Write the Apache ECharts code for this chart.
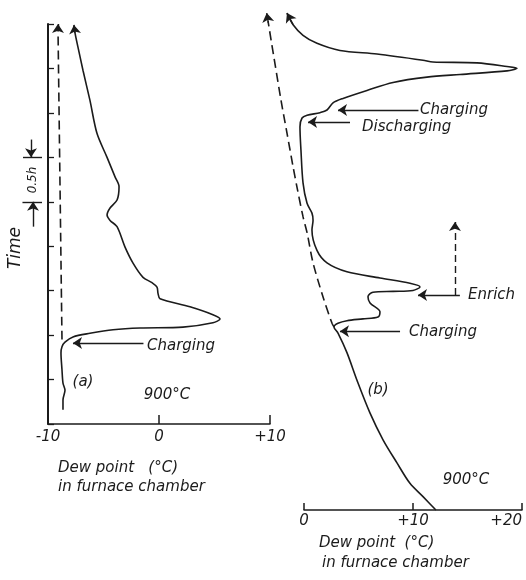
<!DOCTYPE html>
<html>
<head>
<meta charset="utf-8">
<script src="https://cdn.jsdelivr.net/npm/echarts@6/dist/echarts.min.js"></script>
<style>html,body{margin:0;padding:0;background:#fff;}#c{width:526px;height:580px;}</style>
</head>
<body>
<div id="c"></div>
<script>
// ---- Panel (a): dew point (°C) vs time (h) ----
const aDew  = [-8.65,-8.65,-8.47,-8.65,-8.74,-8.83,-8.74,-8.47,-7.75,-6.22,-4.14,-1.71,2.16,4.86,5.5,4.86,2.79,0.09,-0.09,-0.18,-0.63,-1.44,-2.34,-3.06,-3.78,-4.41,-4.68,-4.41,-3.78,-3.6,-3.96,-4.68,-5.59,-6.22,-6.85,-7.3,-7.57,-7.66];
const aTime = [0.16,0.27,0.38,0.46,0.61,0.80,0.87,0.92,0.98,1.02,1.06,1.08,1.09,1.14,1.18,1.23,1.32,1.41,1.47,1.54,1.59,1.65,1.81,1.99,2.22,2.29,2.35,2.43,2.52,2.67,2.78,3.0,3.27,3.64,3.98,4.24,4.40,4.48];
const aDashDew  = [-8.74,-9.1];
const aDashTime = [0.95,4.46];
// ---- Panel (b) ----
const bDew  = [12.1,10.92,9.72,8.53,7.25,6.06,4.86,3.94,3.12,2.75,3.12,3.94,5.41,6.79,6.97,6.06,5.87,6.33,8.17,10.0,10.64,9.72,6.97,3.94,2.11,1.19,0.73,0.83,0.73,0.28,-0.09,-0.28,-0.37,-0.18,0.28,1.47,2.11,2.66,3.58,5.78,8.17,11.28,14.31,18.62,19.54,18.62,15.87,11.83,10.92,6.7,3.3,1.19,-0.09,-1.0,-1.56];
const bTime = [0.0,0.15,0.30,0.53,0.79,1.09,1.46,1.77,1.99,2.06,2.10,2.13,2.15,2.17,2.23,2.33,2.40,2.45,2.46,2.47,2.51,2.55,2.61,2.68,2.78,2.92,3.15,3.26,3.34,3.45,3.68,4.05,4.31,4.41,4.44,4.47,4.50,4.58,4.63,4.72,4.81,4.87,4.90,4.94,4.97,4.99,5.03,5.04,5.06,5.13,5.17,5.25,5.34,5.46,5.59];
const bDashDew  = [2.75,2.57,1.74,0.83,0.28,-0.09,-0.64,-1.0,-1.56,-2.11,-3.3];
const bDashTime = [2.06,2.10,2.40,2.78,3.12,3.30,3.63,3.86,4.24,4.61,5.50];
// tick labels
const aTicks = [-10, 0, 10];
const bTicks = [0, 10, 20];

const INK = '#1b1b1b';
const FONT = 'DejaVu Sans';
const zip = (xs, ys) => xs.map((x, i) => [x, ys[i]]);
const fmt = v => (v > 0 ? '+' + v : String(v));

// panel (b) plotting plane: same scale as the visible (b) axis, extended to the left
const B_PLOT = 2;
const B_LEFT_EXT = 4;              // °C shown left of the visible 0 tick
const B_PX_PER_DEG = 218 / 20;

function curve(x, y, gi, dashed) {
  return {
    type: 'line', xAxisIndex: gi, yAxisIndex: gi, data: zip(x, y),
    showSymbol: false, symbol: 'none', smooth: 0.3, clip: false, silent: true,
    lineStyle: { color: INK, width: 1.6, type: dashed ? [9, 5] : 'solid' }
  };
}
function arrows(gi, segs, extra) {
  return Object.assign({
    type: 'lines', coordinateSystem: 'cartesian2d', xAxisIndex: gi, yAxisIndex: gi,
    clip: false, silent: true, symbol: ['none', 'arrow'], symbolSize: 9,
    lineStyle: { color: INK, width: 1.4, opacity: 1, curveness: 0 },
    data: segs.map(s => ({ coords: s }))
  }, extra || {});
}
function txt(x, y, text, opt) {
  opt = opt || {};
  return {
    type: 'text', x: x, y: y, rotation: opt.rot || 0, silent: true,
    style: {
      text: text, fill: INK, fontFamily: FONT, fontStyle: 'italic',
      fontSize: opt.size || 15, align: opt.align || 'left', verticalAlign: 'middle'
    }
  };
}
const axisLabel = { formatter: fmt, color: INK, fontFamily: FONT, fontStyle: 'italic', fontSize: 15 };

const option = {
  backgroundColor: '#ffffff',
  animation: false,
  grid: [
    { left: 48, right: 256, top: 24, bottom: 156 },
    { left: 304, right: 4, top: 10, bottom: 70 },
    { left: 304 - B_LEFT_EXT * B_PX_PER_DEG, right: 4, top: 10, bottom: 70 }
  ],
  xAxis: [
    { gridIndex: 0, type: 'value', min: aTicks[0], max: aTicks[2], interval: 10,
      axisLine: { onZero: false, lineStyle: { color: INK, width: 1.5 } },
      axisTick: { inside: true, length: 9, lineStyle: { color: INK, width: 1.5 } },
      axisLabel: Object.assign({ margin: 6 }, axisLabel), splitLine: { show: false } },
    { gridIndex: 1, type: 'value', min: bTicks[0], max: bTicks[2], interval: 10,
      axisLine: { onZero: false, lineStyle: { color: INK, width: 1.5 } },
      axisTick: { inside: true, length: 7, lineStyle: { color: INK, width: 1.5 } },
      axisLabel: Object.assign({ margin: 4, alignMaxLabel: 'right' }, axisLabel), splitLine: { show: false } },
    { gridIndex: 2, type: 'value', min: bTicks[0] - B_LEFT_EXT, max: bTicks[2], show: false,
      axisLine: { onZero: false }, splitLine: { show: false } }
  ],
  yAxis: [
    { gridIndex: 0, type: 'value', min: 0, max: 4.5, interval: 0.5,
      axisLine: { show: true, onZero: false, lineStyle: { color: INK, width: 2 } },
      axisTick: { show: true, inside: true, length: 6, lineStyle: { color: INK, width: 1.3 } },
      axisLabel: { show: false }, splitLine: { show: false } },
    { gridIndex: 1, type: 'value', min: 0, max: 5.625, show: false,
      axisLine: { onZero: false }, splitLine: { show: false } },
    { gridIndex: 2, type: 'value', min: 0, max: 5.625, show: false,
      axisLine: { onZero: false }, splitLine: { show: false } }
  ],
  series: [
    curve(aDew, aTime, 0, false),
    curve(aDashDew, aDashTime, 0, true),
    curve(bDew, bTime, B_PLOT, false),
    curve(bDashDew, bDashTime, B_PLOT, true),
    arrows(0, [
      [[-1.4, 0.91], [-7.75, 0.91]],
      [[-7.57, 4.40], [-7.66, 4.49]],
      [[-9.1, 4.42], [-9.1, 4.50]],
      [[-11.53, 3.2], [-11.53, 3.0]],
      [[-11.35, 2.22], [-11.35, 2.5]]
    ]),
    arrows(0, [
      [[-12.25, 3.0], [-10.54, 3.0]],
      [[-12.3, 2.5], [-10.54, 2.5]]
    ], { symbol: 'none' }),
    arrows(B_PLOT, [
      [[10.5, 4.5], [3.12, 4.5]],
      [[4.22, 4.365], [0.37, 4.365]],
      [[14.3, 2.42], [10.46, 2.42]],
      [[8.81, 2.01], [3.30, 2.01]],
      [[-1.0, 5.46], [-1.56, 5.59]],
      [[-3.27, 5.48], [-3.42, 5.59]]
    ]),
    arrows(B_PLOT, [
      [[13.85, 2.42], [13.85, 3.24]]
    ], { lineStyle: { color: INK, width: 1.4, opacity: 1, type: [7, 4], curveness: 0 } })
  ],
  graphic: [
    txt(147, 346, 'Charging'),
    txt(83, 382, '(a)', { align: 'center' }),
    txt(167, 395, '900°C', { align: 'center' }),
    txt(58, 468, 'Dew point   (°C)'),
    txt(58, 487, 'in furnace chamber'),
    txt(16, 248, 'Time', { rot: Math.PI / 2, align: 'center', size: 17 }),
    txt(33, 180, '0.5h', { rot: Math.PI / 2, align: 'center', size: 12 }),
    txt(420, 110, 'Charging'),
    txt(362, 127, 'Discharging'),
    txt(468, 295, 'Enrich'),
    txt(409, 332, 'Charging'),
    txt(378, 390, '(b)', { align: 'center' }),
    txt(466, 480, '900°C', { align: 'center' }),
    txt(319, 543, 'Dew point  (°C)'),
    txt(322, 563, 'in furnace chamber')
  ]
};
echarts.init(document.getElementById('c'), null, { renderer: 'canvas' }).setOption(option);
</script>
</body>
</html>
